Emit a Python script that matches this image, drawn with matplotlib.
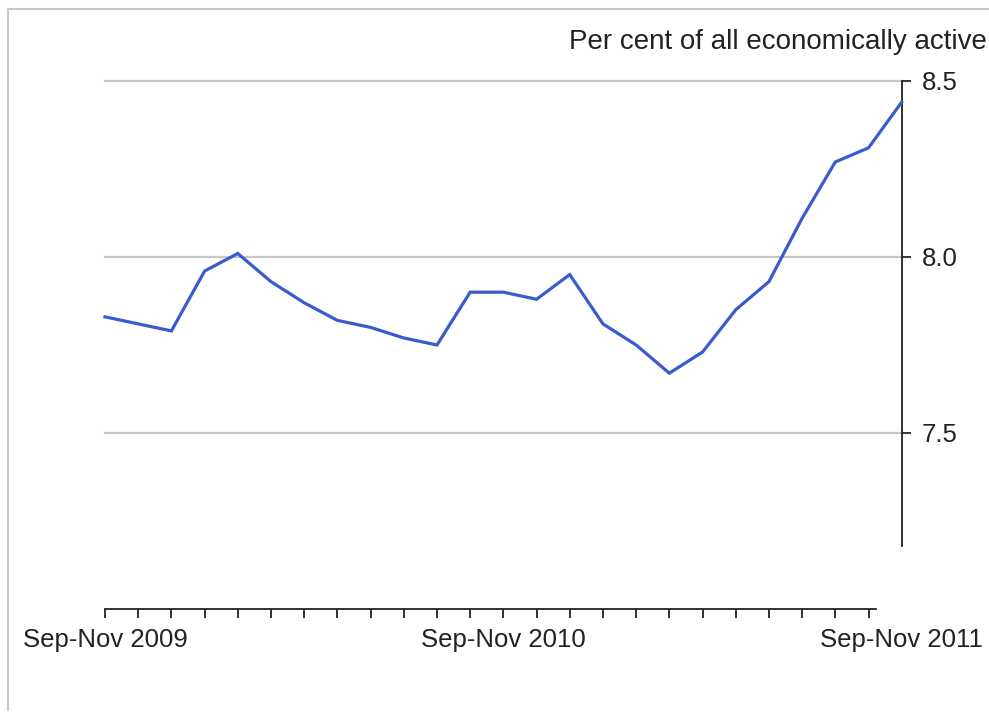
import matplotlib
matplotlib.use("Agg")
import matplotlib.pyplot as plt
from matplotlib.lines import Line2D

plt.rcParams['font.family'] = ['Liberation Sans', 'DejaVu Sans']

periods = ["Sep-Nov 2009", "Oct-Dec 2009", "Nov-Jan 2010", "Dec-Feb 2010", "Jan-Mar 2010",
           "Feb-Apr 2010", "Mar-May 2010", "Apr-Jun 2010", "May-Jul 2010", "Jun-Aug 2010",
           "Jul-Sep 2010", "Aug-Oct 2010", "Sep-Nov 2010", "Oct-Dec 2010", "Nov-Jan 2011",
           "Dec-Feb 2011", "Jan-Mar 2011", "Feb-Apr 2011", "Mar-May 2011", "Apr-Jun 2011",
           "May-Jul 2011", "Jun-Aug 2011", "Jul-Sep 2011", "Aug-Oct 2011", "Sep-Nov 2011"]
rate = [7.83, 7.81, 7.79, 7.96, 8.01, 7.93, 7.87, 7.82, 7.80, 7.77, 7.75, 7.90, 7.90,
        7.88, 7.95, 7.81, 7.75, 7.67, 7.73, 7.85, 7.93, 8.11, 8.27, 8.31, 8.44]
label_positions = [0, 12, 24]
label_texts = ["Sep-Nov 2009", "Sep-Nov 2010", "Sep-Nov 2011"]
y_ticks = [7.5, 8.0, 8.5]
y_labels = ["7.5", "8.0", "8.5"]
unit_label = "Per cent of all economically active"

W, H = 989, 713
fig = plt.figure(figsize=(W / 100, H / 100), dpi=100)
fig.patch.set_facecolor('white')

x0, x1 = 105, 901.7
ybot, ytop = 609, 81
ax = fig.add_axes([x0 / W, 1 - ybot / H, (x1 - x0) / W, (ybot - ytop) / H])
ax.set_xlim(0, 24)
ax.set_ylim(7.0, 8.5)

for yv in y_ticks:
    ax.axhline(yv, color='#c8c8c8', lw=1.6, zorder=1, clip_on=False)

xs = list(range(len(rate)))
ax.plot(xs, rate, color='#3a5bd0', lw=2.3, zorder=3, clip_on=False, solid_joinstyle='miter')

for s in ['left', 'top']:
    ax.spines[s].set_visible(False)
ax.spines['right'].set_bounds(7.18, 8.5)
ax.spines['bottom'].set_bounds(0, 23.22)
for s in ['right', 'bottom']:
    ax.spines[s].set_color('#222222')
    ax.spines[s].set_linewidth(1.3)

ax.yaxis.tick_right()
ax.set_yticks(y_ticks)
ax.set_yticklabels(y_labels)
ax.tick_params(axis='y', direction='out', length=6.5, width=1.3, color='#222222',
               pad=8, labelsize=18.5, labelcolor='#222222')

ax.xaxis.remove_overlapping_locs = False
ax.set_xticks(label_positions)
ax.set_xticklabels(label_texts)
ax.set_xticks(range(24), minor=True)
ax.tick_params(axis='x', which='major', length=0, pad=14, labelsize=18.5, labelcolor='#222222')
ax.tick_params(axis='x', which='minor', direction='out', length=6.5, width=1.3, color='#222222')

fig.text(569 / W, 1 - 49 / H, unit_label, ha='left', va='baseline', fontsize=20, color='#222222')

# outer frame
fig.add_artist(Line2D([8 / W, 8 / W], [1 - 710 / H, 1 - 9 / H], transform=fig.transFigure,
                      color='#c8c8c8', lw=1.5))
fig.add_artist(Line2D([8 / W, 1.0], [1 - 9 / H, 1 - 9 / H], transform=fig.transFigure,
                      color='#c8c8c8', lw=1.5))

fig.savefig('out.png', dpi=100, facecolor='white')
